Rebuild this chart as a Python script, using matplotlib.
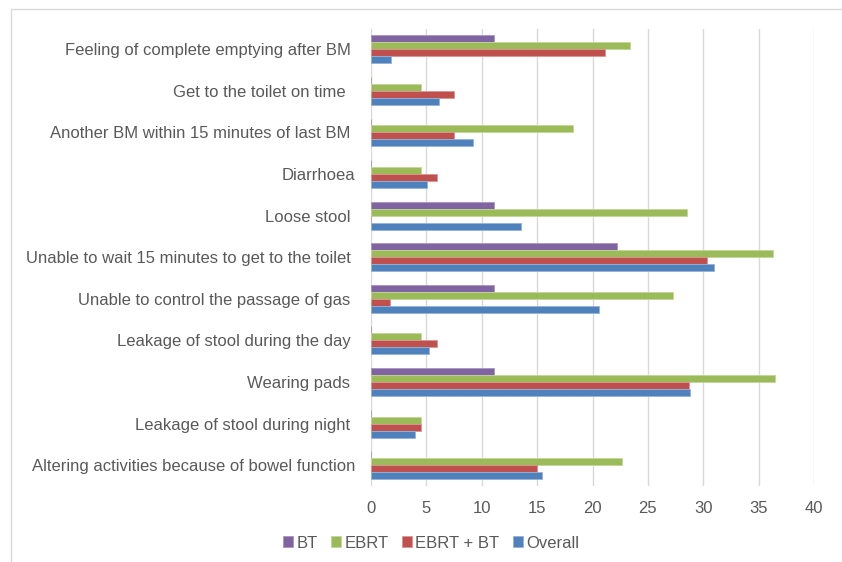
import matplotlib
matplotlib.use("Agg")
import matplotlib.pyplot as plt
from matplotlib.patches import Rectangle
import numpy as np

plt.rcParams['font.family'] = ['Liberation Sans', 'DejaVu Sans']

# categories, top to bottom
labels = [
    "Feeling of complete emptying after BM ",
    "Get to the toilet on time  ",
    "Another BM within 15 minutes of last BM ",
    "Diarrhoea",
    "Loose stool ",
    "Unable to wait 15 minutes to get to the toilet ",
    "Unable to control the passage of gas ",
    "Leakage of stool during the day ",
    "Wearing pads ",
    "Leakage of stool during night ",
    "Altering activities because of bowel function",
]

bt      = [11.1, 0, 0, 0, 11.1, 22.2, 11.1, 0, 11.1, 0, 0]
ebrt    = [23.4, 4.5, 18.2, 4.5, 28.5, 36.3, 27.3, 4.5, 36.5, 4.5, 22.7]
ebrt_bt = [21.1, 7.5, 7.5, 6.0, 0, 30.3, 1.7, 6.0, 28.7, 4.5, 15.0]
overall = [1.8, 6.1, 9.2, 5.1, 13.5, 31.0, 20.6, 5.2, 28.8, 4.0, 15.4]

series = [("BT", bt, "#8064A2", "#A995C0"),
          ("EBRT", ebrt, "#9BBB59", "#C3D69B"),
          ("EBRT + BT", ebrt_bt, "#C0504D", "#D99694"),
          ("Overall", overall, "#4F81BD", "#95B3D7")]

fig = plt.figure(figsize=(8.42, 5.62), dpi=100)
ax = fig.add_axes([371/842, 1 - 486/562, (814 - 371)/842, (486 - 28.5)/562])

y = np.arange(len(labels))
h = 0.168
for i, (name, vals, col, edge) in enumerate(series):
    ax.barh(y + (i - 1.5) * h, vals, height=h, color=col, edgecolor=edge,
            linewidth=0.6, label=name, zorder=3)

ax.set_xlim(0, 40)
ax.set_ylim(len(labels) - 0.5, -0.5)
ax.set_xticks(np.arange(0, 41, 5))
ax.set_yticks(y)
ax.set_yticklabels(labels)
ax.tick_params(axis='both', length=0, labelsize=12, labelcolor='#595959')
ax.tick_params(axis='y', pad=11.5)
ax.tick_params(axis='x', pad=11)
ax.grid(axis='x', color='#D9D9D9', linewidth=1, zorder=0)
for s in ax.spines.values():
    s.set_visible(False)

leg = fig.legend(loc='center', bbox_to_anchor=(0.512, 1 - 543/562), ncol=4,
                 frameon=False, fontsize=12, handlelength=0.6, handleheight=0.6,
                 handletextpad=0.2, columnspacing=0.8)
for t in leg.get_texts():
    t.set_color('#595959')

# outer chart frame
fig.patches.append(Rectangle((11/842, -0.05), 1.2, 1.05 - 8.5/562,
                             transform=fig.transFigure, fill=False,
                             edgecolor='#D9D9D9', linewidth=1))

fig.savefig("out.png", dpi=100)
